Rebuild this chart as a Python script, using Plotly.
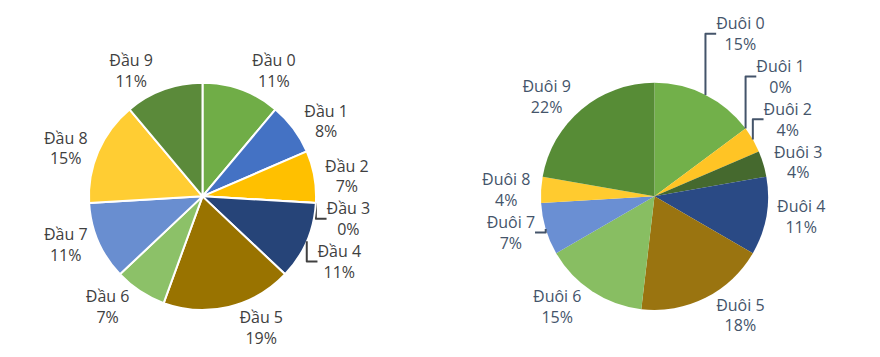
import plotly.graph_objects as go

dau_labels = ["Đầu 0", "Đầu 1", "Đầu 2", "Đầu 3", "Đầu 4", "Đầu 5", "Đầu 6", "Đầu 7", "Đầu 8", "Đầu 9"]
dau_values = [3, 2, 2, 0, 3, 5, 2, 3, 4, 3]
dau_pct_text = ["11%", "8%", "7%", "0%", "11%", "19%", "7%", "11%", "15%", "11%"]
dau_colors = ["#70AD47", "#4472C4", "#FFC000", "#43682B", "#264478", "#997300",
              "#8CC168", "#698ED0", "#FFCD33", "#5B8A3A"]

duoi_labels = ["Đuôi 0", "Đuôi 1", "Đuôi 2", "Đuôi 3", "Đuôi 4", "Đuôi 5", "Đuôi 6", "Đuôi 7", "Đuôi 8", "Đuôi 9"]
duoi_values = [4, 0, 1, 1, 3, 5, 4, 2, 1, 6]
duoi_pct_text = ["15%", "0%", "4%", "4%", "11%", "18%", "15%", "7%", "4%", "22%"]
duoi_colors = ["#72B04A", "#4472C4", "#FFC425", "#45692E", "#2A4A85", "#9A7410",
               "#88BE62", "#6A8FD3", "#FFCB2F", "#578C36"]

FONT = "Open Sans"
W, H = 880, 357

fig = go.Figure()
fig.add_trace(go.Pie(
    labels=dau_labels, values=dau_values,
    text=[f"{l}<br>{p}" for l, p in zip(dau_labels, dau_pct_text)],
    textinfo="text", textposition="outside",
    sort=False, direction="clockwise", rotation=0,
    marker=dict(colors=dau_colors, line=dict(color="white", width=2)),
    textfont=dict(family=FONT, size=16, color="#404040"),
    domain=dict(x=[77/W, 312/W], y=[57/H, 292/H]),
    showlegend=False, hoverinfo="label+percent",
))
fig.add_trace(go.Pie(
    labels=duoi_labels, values=duoi_values,
    text=[f"{l}<br>{p}" for l, p in zip(duoi_labels, duoi_pct_text)],
    textinfo="text", textposition="outside",
    sort=False, direction="clockwise", rotation=0,
    marker=dict(colors=duoi_colors, line=dict(color="rgba(0,0,0,0)", width=0)),
    textfont=dict(family=FONT, size=16, color="#44546A"),
    domain=dict(x=[529/W, 764/W], y=[57/H, 292/H]),
    showlegend=False, hoverinfo="label+percent",
))
fig.update_layout(
    width=W, height=H,
    margin=dict(l=0, r=0, t=0, b=0),
    paper_bgcolor="white", plot_bgcolor="white",
    font=dict(family=FONT),
)
fig.write_html("out.html")
